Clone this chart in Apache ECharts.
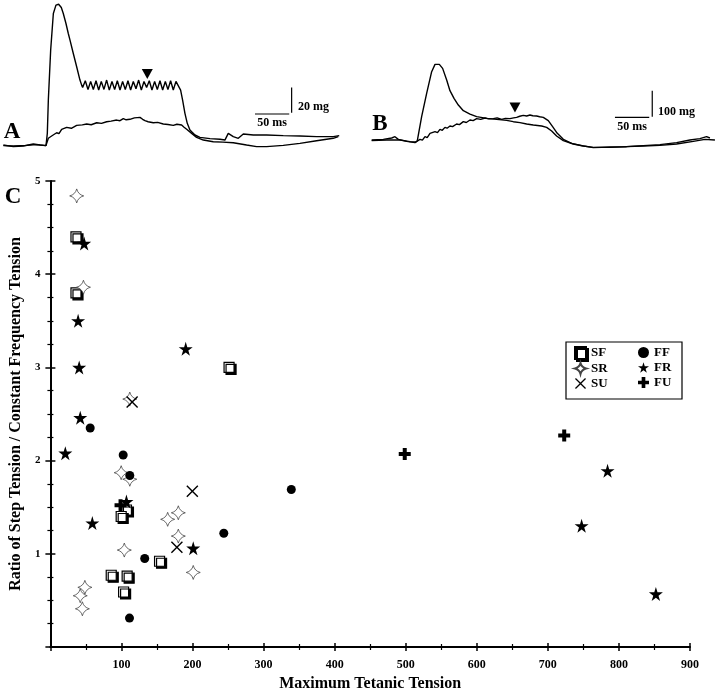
<!DOCTYPE html>
<html><head><meta charset="utf-8">
<script src="https://cdn.jsdelivr.net/npm/echarts@6/dist/echarts.min.js"></script>
<style>html,body{margin:0;padding:0;background:#fff}#c{width:720px;height:697px}</style>
</head><body><div id="c"></div>
<script>
// ---------- Panel C data (Maximum tetanic tension, ratio) ----------
const SF = [[36,4.40],[36,3.80],[107,1.47],[99.6,1.40],[153.6,0.92],[85.6,0.77],[108,0.76],[103,0.59],[251.4,3.00]];
const SR = [[37,4.84],[46.5,3.86],[111.7,2.66],[99.6,1.87],[111.7,1.80],[104,1.04],[165,1.37],[180,1.44],[180,1.19],[201,0.80],[48.5,0.64],[42,0.55],[45,0.41]];
const SU = [[115,2.63],[178,1.07],[199.7,1.67]];
const FF = [[56,2.35],[102.4,2.06],[111.7,1.84],[132.7,0.95],[111.3,0.31],[339,1.69],[244,1.22]];
const FR = [[47.5,4.33],[39,3.50],[40.5,3.00],[42,2.46],[21,2.08],[107,1.56],[59,1.33],[190.4,3.20],[201,1.06],[784,1.89],[747.5,1.30],[852,0.57]];
const FU = [[98.7,1.52],[498.6,2.07],[723,2.27]];
const xTickLabels = [100,200,300,400,500,600,700,800,900];
const yTickLabels = [1,2,3,4,5];

// ---------- Panel A traces (ms, mg) ----------
const traceA_step = [[4.9,0],[19.4,-1.3],[34,-0.8],[48.6,0.8],[58.3,0],[67.1,-0.5],[69,9.2],[70.5,35.5],[73.9,75],[77.8,103.9],[81.6,110.5],[85.5,111.2],[89.4,108.6],[92.3,103.9],[96.2,96],[99.6,88.1],[102.1,82.8],[106.9,72.3],[111.8,61.8],[116.6,51.3],[119.1,47.3],
[120.5,45.5],[124.4,50.8],[128.3,43.9],[132.2,50.2],[136.1,43.9],[140,50.8],[143.9,43.4],[147.7,50.2],[151.6,43.9],[155.5,51.3],[159.4,43.4],[163.3,50.2],[167.2,43.9],[171.1,50.8],[175,43.4],[178.8,50.2],[182.7,43.9],[186.6,50.8],[190.5,43.4],[194.4,50.2],[198.3,44.4],[202.2,51.3],[206.1,43.4],[210,50.2],[213.8,45.5],[217.7,50.8],[221.6,43.4],[225.5,50.2],[229.4,43.9],[233.3,50.8],[237.2,43.4],[241.1,50.2],[244.9,43.9],[248.8,50.8],[252.7,43.4],[256.6,50.2],
[259.5,48.7],[263.4,43.4],[266.3,35.5],[269.7,25],[273.1,17.1],[277,11.8],[284.3,7.9],[291.6,6],[306.2,5],[320.8,4.5],[328,3.9],[332.9,9.2],[340.2,6.6],[347.5,5.3],[354.8,8.7],[369.4,7.9],[388.8,7.9],[413.1,7.4],[437.4,7.1],[461.7,6.6],[486,6.6],[494.7,7.4]];
const traceA_const = [[4.9,-0.5],[19.4,-0.8],[38.9,-0.3],[53.5,0.3],[67,-0.5],[70.5,5.3],[75.3,7.1],[78,6.2],[82.6,9.7],[86,9],[89.9,12.4],[97.2,13.9],[104,13.2],[111.8,15.5],[120,15.9],[126.4,16.6],[133,16],[141,17.6],[148,17.1],[155.5,18.4],[162,18.9],[170.1,19.7],[175,19.2],[179.8,20.8],[184,19.9],[189.5,20.3],[196,21.4],[204.1,21.8],[208,20.3],[211.4,19.2],[216,18.4],[223.6,17.6],[230,17.9],[238.1,16.6],[245,16.2],[252.7,15.5],[258,16.4],[264.9,15.8],[268,14.2],[272.2,12.4],[279.5,9.2],[286.7,6],[296.5,3.9],[311,2.6],[325,2.3],[340.2,1.8],[359.6,0],[374.2,-1.3],[388.8,-1.3],[413.1,-0.3],[437.4,1.3],[461.7,3.4],[486,5.3],[493.3,6.6]];
const arrowA = [[214.8,56.1]];
const scaleA_time = [[371.8,24.5],[421.8,24.5]];
const scaleA_force = [[425.3,25.5],[425.3,45.5]];

// ---------- Panel B traces (ms, mg) ----------
const traceB_step = [[17,2.6],[34,5.1],[46.2,10.3],[51,15.4],[55.9,5.1],[68,-2.6],[80.2,-7.7],[83.6,0],[89.9,92.4],[97.2,182.2],[104.5,265.6],[109.4,293.8],[115.7,293.8],[120.5,278.4],[126.4,233.5],[131.2,192.5],[137.1,163],[143.4,137.3],[150.7,115.5],[160.4,102.6],[170.1,92.4],[184.7,86],[199.3,82.1],[213.8,78.3],[223.6,73.1],[233.3,69.3],[243,64.2],[252.7,60.3],[264.9,56.5],[272.2,51.3],[279.5,37.2],[286.7,18],[296.5,0],[311,-12.8],[325.6,-20.5],[340.2,-25.7],[364.5,-25.7],[388.8,-23.1],[413.1,-20.5],[437.4,-18],[461.7,-12.8],[486,-2.6],[503,5.1],[517.6,2.6]];
const traceB_const = [[17,0],[38.9,2.6],[58.3,2.6],[72.9,-3.8],[81.6,-5.1],[87.5,5.1],[91,2],[94.8,15.4],[98,12],[102.1,28.2],[105,24],[109.4,34.6],[113,31],[116.6,43.6],[120,40],[123.9,51.3],[127,48],[131.2,56.5],[135,54],[140.9,64.2],[145,62],[150.7,73.1],[155,70],[160.4,79.5],[165,77],[170.1,84.7],[176,82],[182.3,87.2],[188,84],[194.4,84.7],[200,88],[206.6,82.1],[212,86],[218.7,84.7],[224,88],[228.4,89.8],[233,94],[238.1,97.5],[243,95],[247.9,98.8],[252,96],[257.6,94.9],[262,92],[267.3,89.8],[274.6,77],[280.9,53.9],[287.7,28.2],[296.5,5.1],[308.6,-10.3],[323.2,-19.2],[340.2,-26.9],[364.5,-24.4],[388.8,-23.1],[413.1,-19.2],[437.4,-15.4],[461.7,-7.7],[481.1,2.6],[495.7,7.7],[505.4,15.4],[510.3,10.3]];
const arrowB = [[226,128]];
const scaleB_time = [[371.8,89.8],[421.8,89.8]];
const scaleB_force = [[426.2,92.4],[426.2,192.4]];

const FONT = '"Liberation Serif","Times New Roman",serif';
const chart = echarts.init(document.getElementById('c'), null, {renderer:'canvas'});

const P_STAR = 'path://M50,0 L61,35 L98,35 L68,57 L79,91 L50,70 L21,91 L32,57 L2,35 L39,35 Z';
const P_DIAM = 'path://M10,0 Q12,8 20,10 Q12,12 10,20 Q8,12 0,10 Q8,8 10,0 Z';
const P_X = 'path://M0,1 L1,0 L6,5 L11,0 L12,1 L7,6 L12,11 L11,12 L6,7 L1,12 L0,11 L5,6 Z';
const P_PLUS = 'path://M4,0 H8 V4 H12 V8 H8 V12 H4 V8 H0 V4 H4 Z';

function axisC(isX, inside) {
  const base = {
    gridIndex: 0, type: 'value',
    min: 0, max: isX ? 900 : 5, interval: isX ? 100 : 1,
    splitLine: {show:false},
    axisLine: {show: !inside, onZero:false, lineStyle:{color:'#000', width:2}},
    axisTick: {show:true, inside: inside, length: isX ? 4 : 5, lineStyle:{color:'#000', width:1.5}},
    minorTick: {show:true, splitNumber: isX ? 2 : 4, length: 3, lineStyle:{color:'#000', width:1.2}},
    axisLabel: inside ? {show:false} : {
      show:true, color:'#000', fontFamily:FONT, fontWeight:'bold', fontSize: isX ? 12 : 11,
      margin: isX ? 12 : 10,
      formatter: v => (isX ? xTickLabels : yTickLabels).includes(v) ? String(v) : ''
    }
  };
  base.position = isX ? 'bottom' : 'left';
  if (!inside) {
    base.name = isX ? 'Maximum Tetanic Tension' : 'Ratio of Step Tension / Constant Frequency Tension';
    base.nameLocation = 'middle';
    base.nameGap = isX ? 29 : 24;
    base.nameTextStyle = {color:'#000', fontFamily:FONT, fontWeight:'bold', fontSize:16};
  }
  return base;
}

function lineS(data, xi, yi, w) {
  return {type:'line', data, xAxisIndex:xi, yAxisIndex:yi, symbol:'none', silent:true,
    lineStyle:{color:'#000', width: w || 1.4, opacity:1}, animation:false, z:2};
}

const scat = (name, data, symbol, size, itemStyle) => ({
  name, type:'scatter', data, symbol, symbolSize:size, xAxisIndex:0, yAxisIndex:0,
  itemStyle: Object.assign({opacity:1}, itemStyle), emphasis:{disabled:true}, animation:false, z:3
});

const legText = {color:'#000', fontFamily:FONT, fontWeight:'bold', fontSize:13, lineHeight:13};
const option = {
  backgroundColor:'#fff',
  animation:false,
  grid: [
    {left:46, top:181, width:644, height:469},
    {left:0, top:0, width:360, height:150},
    {left:360, top:0, width:360, height:150}
  ],
  xAxis: [
    axisC(true,false), axisC(true,true),
    {gridIndex:1, type:'value', min:0, max:525, show:false},
    {gridIndex:2, type:'value', min:0, max:525, show:false}
  ],
  yAxis: [
    axisC(false,false), axisC(false,true),
    {gridIndex:1, type:'value', min:-3.95, max:114.55, show:false},
    {gridIndex:2, type:'value', min:-35.9, max:541.6, show:false}
  ],
  legend: [
    {data:[
       {name:'SF', itemStyle:{shadowColor:'#000', shadowOffsetX:2, shadowOffsetY:2, shadowBlur:0}},
       {name:'SR'}, {name:'SU'}],
     orient:'vertical', left:574, top:346, padding:0, itemGap:2,
     itemWidth:11, itemHeight:12, textStyle:legText},
    {data:['FF','FR','FU'], orient:'vertical', left:638, top:346, padding:0, itemGap:2,
     itemWidth:11, itemHeight:12, textStyle:legText}
  ],
  series: [
    scat('SF', SF, 'rect', 10, {color:'#fff', borderColor:'#000', borderWidth:1.2, shadowColor:'#000', shadowOffsetX:2, shadowOffsetY:2, shadowBlur:0}),
    scat('SR', SR, P_DIAM, 14, {color:'#fff', borderColor:'#444', borderWidth:0.8}),
    scat('SU', SU, P_X, 12, {color:'#000'}),
    scat('FF', FF, 'circle', 9, {color:'#000'}),
    scat('FR', FR, P_STAR, 14, {color:'#000'}),
    scat('FU', FU, P_PLUS, 12, {color:'#000'}),
    lineS(traceA_step, 2, 2),
    lineS(traceA_const, 2, 2),
    lineS(scaleA_time, 2, 2, 1.2),
    lineS(scaleA_force, 2, 2, 1.2),
    {type:'scatter', data:arrowA, xAxisIndex:2, yAxisIndex:2, symbol:'triangle', symbolRotate:180, symbolSize:[11,10], itemStyle:{color:'#000', opacity:1}, silent:true},
    lineS(traceB_step, 3, 3),
    lineS(traceB_const, 3, 3),
    lineS(scaleB_time, 3, 3, 1.2),
    lineS(scaleB_force, 3, 3, 1.2),
    {type:'scatter', data:arrowB, xAxisIndex:3, yAxisIndex:3, symbol:'triangle', symbolRotate:180, symbolSize:[11,10], itemStyle:{color:'#000', opacity:1}, silent:true}
  ],
  graphic: [
    {type:'rect', shape:{x:566, y:342, width:116, height:57}, style:{fill:'none', stroke:'#000', lineWidth:1.2}, silent:true},
    {type:'text', x:12, y:132, style:{text:'A', font:'bold 23px '+FONT, fill:'#000', align:'center', verticalAlign:'middle'}},
    {type:'text', x:380, y:124, style:{text:'B', font:'bold 23px '+FONT, fill:'#000', align:'center', verticalAlign:'middle'}},
    {type:'text', x:13, y:197, style:{text:'C', font:'bold 23px '+FONT, fill:'#000', align:'center', verticalAlign:'middle'}},
    {type:'text', x:298, y:107, style:{text:'20 mg', font:'bold 12px '+FONT, fill:'#000', align:'left', verticalAlign:'middle'}},
    {type:'text', x:272, y:123, style:{text:'50 ms', font:'bold 12px '+FONT, fill:'#000', align:'center', verticalAlign:'middle'}},
    {type:'text', x:658, y:112, style:{text:'100 mg', font:'bold 12px '+FONT, fill:'#000', align:'left', verticalAlign:'middle'}},
    {type:'text', x:632, y:127, style:{text:'50 ms', font:'bold 12px '+FONT, fill:'#000', align:'center', verticalAlign:'middle'}}
  ]
};
chart.setOption(option);
</script></body></html>
